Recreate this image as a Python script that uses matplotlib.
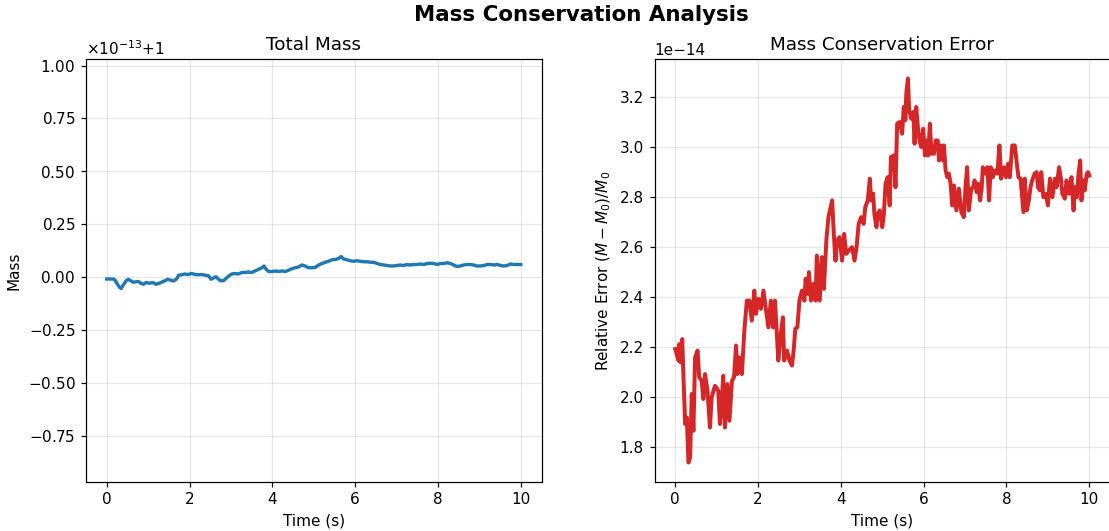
import matplotlib
matplotlib.use("Agg")
import matplotlib.pyplot as plt
import numpy as np

# total mass, deviation from 1 in units of 1e-13
mass_time = [0.00, 0.16, 0.20, 0.26, 0.31, 0.35, 0.40, 0.47, 0.52, 0.58, 0.64, 0.71,
             0.77, 0.82, 0.89, 0.95, 1.03, 1.11, 1.19, 1.27, 1.35, 1.41, 1.47, 1.53,
             1.61, 1.68, 1.74, 1.81, 1.89, 1.97, 2.05, 2.14, 2.22, 2.30, 2.38, 2.46,
             2.52, 2.58, 2.64, 2.70, 2.75, 2.82, 2.88, 2.94, 3.02, 3.10, 3.18, 3.26,
             3.34, 3.42, 3.50, 3.59, 3.67, 3.75, 3.80, 3.85, 3.91, 3.99, 4.07, 4.15,
             4.23, 4.31, 4.39, 4.47, 4.55, 4.63, 4.71, 4.79, 4.88, 4.96, 5.04, 5.12,
             5.20, 5.28, 5.36, 5.44, 5.52, 5.60, 5.66, 5.72, 5.80, 5.88, 5.96, 6.04,
             6.12, 6.20, 6.29, 6.37, 6.45, 6.53, 6.61, 6.69, 6.77, 6.85, 6.93, 7.01,
             7.09, 7.17, 7.25, 7.33, 7.41, 7.49, 7.57, 7.66, 7.74, 7.82, 7.90, 7.98,
             8.06, 8.14, 8.22, 8.30, 8.38, 8.46, 8.54, 8.62, 8.70, 8.78, 8.86, 8.94,
             9.02, 9.11, 9.19, 9.27, 9.35, 9.43, 9.51, 9.59, 9.67, 9.75, 9.83, 9.91,
             10.00]
mass_dev = [-0.011, -0.011, -0.016, -0.035, -0.050, -0.055, -0.039, -0.019, -0.012,
            -0.019, -0.025, -0.023, -0.022, -0.031, -0.036, -0.028, -0.031, -0.028,
            -0.035, -0.031, -0.023, -0.019, -0.012, -0.016, -0.020, -0.012, 0.006,
            0.008, 0.013, 0.011, 0.016, 0.011, 0.008, 0.011, 0.006, 0.005, -0.012,
            -0.005, 0.000, -0.012, -0.019, -0.019, -0.008, 0.003, 0.013, 0.016, 0.013,
            0.019, 0.021, 0.022, 0.021, 0.029, 0.035, 0.043, 0.051, 0.035, 0.024,
            0.025, 0.027, 0.024, 0.027, 0.025, 0.032, 0.037, 0.043, 0.047, 0.055,
            0.051, 0.043, 0.043, 0.044, 0.055, 0.063, 0.068, 0.074, 0.079, 0.082,
            0.087, 0.095, 0.084, 0.079, 0.076, 0.074, 0.076, 0.074, 0.071, 0.071,
            0.068, 0.069, 0.063, 0.058, 0.055, 0.054, 0.052, 0.051, 0.054, 0.055,
            0.054, 0.057, 0.055, 0.058, 0.057, 0.060, 0.058, 0.062, 0.065, 0.062,
            0.058, 0.062, 0.063, 0.066, 0.063, 0.055, 0.049, 0.052, 0.055, 0.057,
            0.057, 0.055, 0.052, 0.051, 0.054, 0.057, 0.057, 0.055, 0.057, 0.054,
            0.052, 0.054, 0.060, 0.057, 0.057, 0.058]

# relative error (M - M0)/M0 in units of 1e-14
err_time = [0.00, 0.08, 0.10, 0.13, 0.17, 0.20, 0.24, 0.28, 0.32, 0.36, 0.40, 0.44,
            0.48, 0.54, 0.58, 0.64, 0.68, 0.72, 0.78, 0.84, 0.88, 0.96, 1.04, 1.08,
            1.12, 1.16, 1.20, 1.26, 1.31, 1.37, 1.42, 1.47, 1.50, 1.55, 1.61, 1.67,
            1.73, 1.79, 1.85, 1.91, 1.95, 2.01, 2.07, 2.13, 2.20, 2.25, 2.31, 2.36,
            2.41, 2.45, 2.49, 2.55, 2.60, 2.63, 2.70, 2.76, 2.82, 2.86, 2.90, 2.95,
            3.00, 3.06, 3.12, 3.15, 3.20, 3.23, 3.28, 3.34, 3.39, 3.42, 3.49, 3.54,
            3.59, 3.65, 3.70, 3.79, 3.83, 3.87, 3.91, 3.97, 4.03, 4.08, 4.13, 4.19,
            4.27, 4.33, 4.38, 4.43, 4.49, 4.55, 4.59, 4.65, 4.70, 4.73, 4.78, 4.81,
            4.86, 4.89, 4.94, 5.00, 5.04, 5.08, 5.13, 5.18, 5.21, 5.28, 5.32, 5.36,
            5.42, 5.48, 5.52, 5.56, 5.58, 5.62, 5.65, 5.70, 5.75, 5.78, 5.82, 5.86,
            5.90, 5.94, 5.99, 6.03, 6.07, 6.11, 6.15, 6.19, 6.25, 6.29, 6.34, 6.37,
            6.42, 6.47, 6.49, 6.53, 6.57, 6.61, 6.65, 6.69, 6.73, 6.79, 6.85, 6.91,
            6.97, 7.01, 7.05, 7.09, 7.15, 7.20, 7.23, 7.28, 7.32, 7.36, 7.40, 7.43,
            7.50, 7.54, 7.58, 7.62, 7.67, 7.71, 7.78, 7.83, 7.87, 7.94, 7.99, 8.04,
            8.08, 8.14, 8.20, 8.25, 8.29, 8.34, 8.41, 8.44, 8.49, 8.54, 8.58, 8.62,
            8.68, 8.73, 8.76, 8.81, 8.84, 8.89, 8.95, 9.00, 9.05, 9.11, 9.17, 9.21,
            9.27, 9.31, 9.35, 9.41, 9.45, 9.51, 9.57, 9.62, 9.65, 9.70, 9.74, 9.78,
            9.81, 9.86, 9.89, 9.94, 9.97, 10.00]
err_val = [2.191, 2.145, 2.211, 2.138, 2.231, 2.078, 1.891, 1.917, 1.737, 1.757, 2.011,
           1.864, 2.158, 2.185, 2.078, 2.064, 1.991, 2.091, 2.024, 1.877, 1.998, 2.044,
           2.024, 1.891, 1.971, 2.084, 1.877, 2.051, 1.904, 2.064, 2.078, 2.205, 2.091,
           2.158, 2.091, 2.265, 2.385, 2.385, 2.305, 2.425, 2.332, 2.392, 2.352, 2.425,
           2.338, 2.278, 2.385, 2.278, 2.385, 2.265, 2.145, 2.251, 2.318, 2.145, 2.185,
           2.145, 2.125, 2.185, 2.272, 2.278, 2.385, 2.425, 2.385, 2.472, 2.412, 2.499,
           2.385, 2.452, 2.385, 2.565, 2.385, 2.559, 2.432, 2.626, 2.719, 2.786, 2.652,
           2.545, 2.626, 2.639, 2.545, 2.652, 2.572, 2.585, 2.599, 2.545, 2.599, 2.692,
           2.719, 2.692, 2.759, 2.786, 2.873, 2.786, 2.813, 2.732, 2.679, 2.732, 2.746,
           2.679, 2.732, 2.853, 2.879, 2.766, 2.960, 2.966, 2.839, 3.093, 3.100, 3.053,
           3.160, 3.107, 3.213, 3.274, 3.147, 3.113, 3.140, 3.013, 3.160, 3.080, 3.026,
           3.000, 3.073, 2.966, 3.026, 2.966, 3.093, 2.973, 2.973, 3.026, 3.026, 2.946,
           3.006, 2.946, 3.006, 2.906, 2.879, 2.893, 2.853, 2.766, 2.846, 2.746, 2.833,
           2.739, 2.719, 2.839, 2.919, 2.746, 2.833, 2.839, 2.866, 2.819, 2.853, 2.786,
           2.833, 2.919, 2.893, 2.919, 2.786, 2.919, 2.879, 2.906, 2.893, 3.006, 2.873,
           2.919, 2.879, 2.933, 2.879, 3.006, 3.006, 2.933, 2.879, 2.873, 2.739, 2.873,
           2.746, 2.786, 2.839, 2.866, 2.893, 2.899, 2.839, 2.826, 2.899, 2.799, 2.813,
           2.766, 2.873, 2.799, 2.873, 2.839, 2.919, 2.879, 2.813, 2.793, 2.866, 2.813,
           2.879, 2.746, 2.839, 2.799, 2.893, 2.946, 2.786, 2.866, 2.826, 2.893, 2.899,
           2.886]

W, H, DPI = 1109, 531, 110
fig = plt.figure(figsize=(W / DPI, H / DPI), dpi=DPI, facecolor='white')

ax1 = fig.add_axes([86 / W, 49.3 / H, 455.5 / W, 422.4 / H])
ax2 = fig.add_axes([654.5 / W, 49.3 / H, 455.5 / W, 422.4 / H])

# left: total mass around M0 = 1
mass = 1.0 + np.array(mass_dev) * 1e-13
ax1.plot(mass_time, mass, color='#1f77b4', linewidth=2.2)
ax1.set_ylim(1 - 0.969e-13, 1 + 1.027e-13)
ax1.set_xlim(-0.5, 10.5)
ax1.ticklabel_format(axis='y', useOffset=True, useMathText=True)
ax1.set_title('Total Mass', fontsize=12)
ax1.set_xlabel('Time (s)')
ax1.set_ylabel('Mass')
ax1.grid(True, alpha=0.3)

# right: relative conservation error
rel_err = np.array(err_val) * 1e-14
ax2.plot(err_time, rel_err, color='#d62728', linewidth=2.6)
ax2.set_xlim(-0.5, 10.5)
ax2.set_title('Mass Conservation Error', fontsize=12)
ax2.set_xlabel('Time (s)')
ax2.set_ylabel('Relative Error $(M - M_0)/M_0$')
ax2.grid(True, alpha=0.3)

fig.text(581.5 / W, 1 - 20.7 / H, 'Mass Conservation Analysis',
         fontsize=14, fontweight='bold', ha='center', va='baseline')

fig.savefig('out.png', dpi=DPI)
